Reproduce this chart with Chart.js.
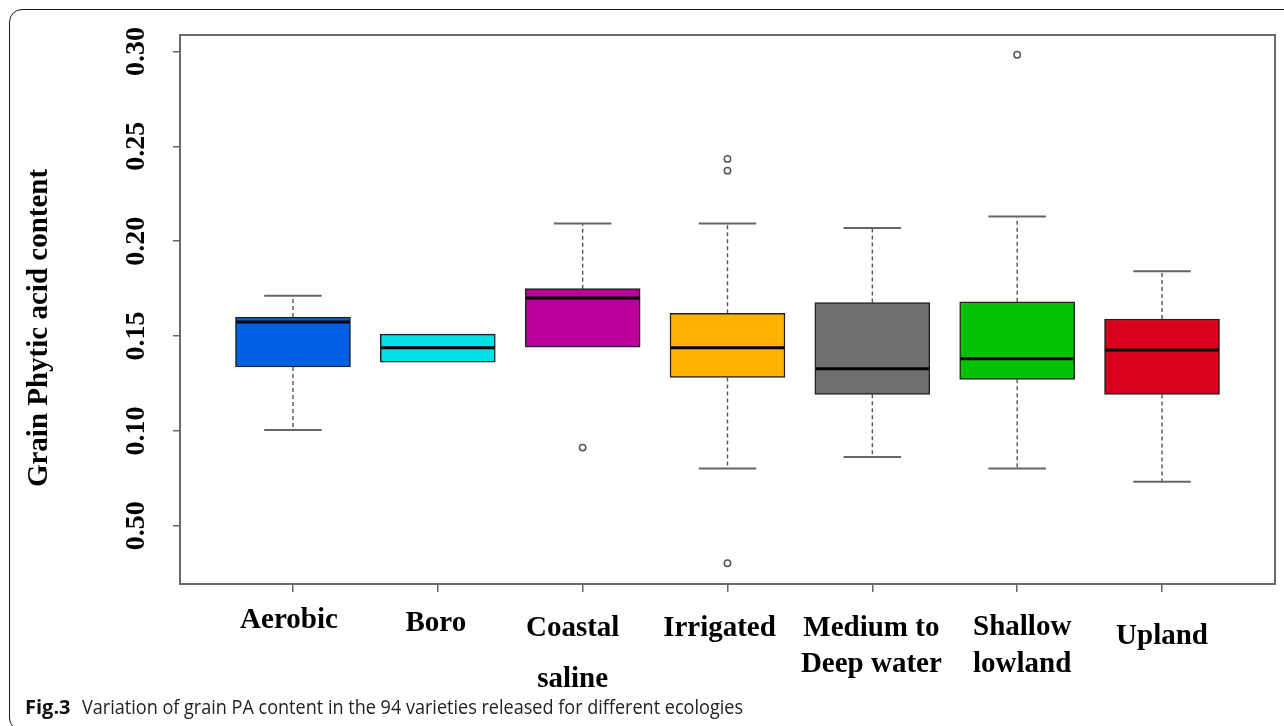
<!DOCTYPE html>
<html>
<head>
<meta charset="utf-8">
<script src="https://cdn.jsdelivr.net/npm/chart.js@4.4.1/dist/chart.umd.min.js"></script>
<style>
  html, body { margin: 0; padding: 0; background: #fff; overflow: hidden; }
  #wrap { position: relative; width: 1284px; height: 726px; overflow: hidden; }
  #frame { position: absolute; left: 9px; top: 9px; width: 1400px; height: 722px;
           border: 1.4px solid #1a1a1a; border-radius: 13px; box-sizing: border-box; pointer-events: none; }
  canvas { position: absolute; left: 0; top: 0; }
</style>
</head>
<body>
<div id="wrap">
  <canvas id="c" width="1284" height="726"></canvas>
  <div id="frame"></div>
</div>
<script>
// ---- data ----
const categories = ['Aerobic', 'Boro', 'Coastal saline', 'Irrigated', 'Medium to Deep water', 'Shallow lowland', 'Upland'];
const categoryLabelLines = [['Aerobic'], ['Boro'], ['Coastal', 'saline'], ['Irrigated'], ['Medium to', 'Deep water'], ['Shallow', 'lowland'], ['Upland']];
const whiskerLow  = [0.1005, 0.1362, 0.1442, 0.0802, 0.0863, 0.0802, 0.0732];
const q1          = [0.1337, 0.1362, 0.1442, 0.1282, 0.1193, 0.1272, 0.1192];
const median      = [0.1574, 0.1439, 0.1700, 0.1439, 0.1328, 0.1381, 0.1426];
const q3          = [0.1600, 0.1510, 0.1750, 0.1620, 0.1677, 0.1681, 0.1590];
const whiskerHigh = [0.1713, 0.1510, 0.2093, 0.2093, 0.2070, 0.2130, 0.1842];
const outlierGroup = [3, 4, 4, 4, 6];
const outlierValue = [0.0912, 0.2434, 0.2372, 0.0302, 0.2983];
const yTicks = [0.05, 0.10, 0.15, 0.20, 0.25, 0.30];
const yTickLabels = ['0.50', '0.10', '0.15', '0.20', '0.25', '0.30'];
const yTitle = 'Grain Phytic acid content';
const captionBold = 'Fig.3';
const captionText = 'Variation of grain PA content in the 94 varieties released for different ecologies';

// ---- styles ----
const boxColors = ['#0060E4', '#00E0E4', '#BA009C', '#FFB200', '#6E6E6E', '#06C106', '#D8001C'];
const labelBaselines = [[628], [631], [636, 687], [636], [636, 672], [635, 672], [644]];
const labelShiftX = [-4, -2, -10, -8, -1, 5, 0];
const serifBold = 'bold 29px "Liberation Serif", "Times New Roman", serif';
const frameColor = '#6a6a6a';

const boxPlugin = {
  id: 'boxplot',
  beforeDatasetsDraw(chart) {
    const { ctx, scales: { x, y } } = chart;
    const meta = chart.getDatasetMeta(0);
    ctx.save();
    meta.data.forEach((bar, i) => {
      const cx = x.getPixelForValue(i + 1);
      const half = bar.width / 4;
      const yl = y.getPixelForValue(whiskerLow[i]);
      const y1 = y.getPixelForValue(q1[i]);
      const y3 = y.getPixelForValue(q3[i]);
      const yh = y.getPixelForValue(whiskerHigh[i]);
      ctx.strokeStyle = '#555';
      ctx.lineWidth = 1.4;
      ctx.setLineDash([4, 3]);
      ctx.beginPath();
      ctx.moveTo(cx, y1); ctx.lineTo(cx, yl);
      ctx.moveTo(cx, y3); ctx.lineTo(cx, yh);
      ctx.stroke();
      ctx.setLineDash([]);
      ctx.strokeStyle = '#666';
      ctx.lineWidth = 2;
      ctx.beginPath();
      if (whiskerLow[i] < q1[i]) { ctx.moveTo(cx - half, yl); ctx.lineTo(cx + half, yl); }
      if (whiskerHigh[i] > q3[i]) { ctx.moveTo(cx - half, yh); ctx.lineTo(cx + half, yh); }
      ctx.stroke();
    });
    ctx.restore();
  },
  afterDatasetsDraw(chart) {
    const { ctx, scales: { y } } = chart;
    const meta = chart.getDatasetMeta(0);
    ctx.save();
    ctx.strokeStyle = '#000';
    ctx.lineWidth = 3;
    meta.data.forEach((bar, i) => {
      const ym = y.getPixelForValue(median[i]);
      ctx.beginPath();
      ctx.moveTo(bar.x - bar.width / 2 + 1, ym);
      ctx.lineTo(bar.x + bar.width / 2 - 1, ym);
      ctx.stroke();
    });
    ctx.restore();
  },
  afterDraw(chart) {
    const { ctx, chartArea: a, scales: { x } } = chart;
    ctx.save();
    // plot frame
    ctx.strokeStyle = frameColor;
    ctx.lineWidth = 2;
    ctx.strokeRect(a.left, a.top, a.right - a.left, a.bottom - a.top);
    // category labels
    ctx.fillStyle = '#000';
    ctx.font = serifBold;
    ctx.textAlign = 'center';
    ctx.textBaseline = 'alphabetic';
    categoryLabelLines.forEach((lines, i) => {
      const cx = x.getPixelForValue(i + 1) + labelShiftX[i];
      lines.forEach((t, j) => ctx.fillText(t, cx, labelBaselines[i][j]));
    });
    // y title
    ctx.save();
    ctx.translate(40, 328);
    ctx.rotate(-Math.PI / 2);
    ctx.textAlign = 'center';
    ctx.textBaseline = 'middle';
    ctx.fillText(yTitle, 0, 0);
    ctx.restore();
    // caption
    ctx.textAlign = 'left';
    ctx.font = 'bold 20px "Open Sans", "Noto Sans", sans-serif';
    ctx.fillStyle = '#111';
    ctx.fillText(captionBold, 25, 714);
    ctx.font = '20px "Open Sans", "Noto Sans", sans-serif';
    ctx.fillStyle = '#222';
    ctx.fillText(captionText, 82, 714, 661);
    ctx.restore();
  }
};

new Chart(document.getElementById('c'), {
  type: 'bar',
  data: {
    datasets: [
      {
        type: 'bar',
        data: categories.map((c, i) => ({ x: i + 1, y: [q1[i], q3[i]] })),
        backgroundColor: boxColors,
        borderColor: '#222',
        borderWidth: 1.5,
        borderSkipped: false,
        barThickness: 115
      },
      {
        type: 'scatter',
        data: outlierGroup.map((g, i) => ({ x: g, y: outlierValue[i] })),
        pointStyle: 'circle',
        pointRadius: 3.2,
        pointBorderWidth: 1.5,
        pointBorderColor: '#555',
        pointBackgroundColor: '#fff'
      }
    ]
  },
  options: {
    responsive: false,
    animation: false,
    events: [],
    layout: { padding: { left: 0, top: 35, right: 9, bottom: 42 } },
    plugins: { legend: { display: false }, tooltip: { enabled: false }, title: { display: false } },
    scales: {
      x: {
        type: 'linear',
        offset: false,
        min: 0.22,
        max: 7.78,
        afterBuildTicks: s => { s.ticks = categories.map((c, i) => ({ value: i + 1 })); },
        afterFit: s => { s.height = 100; },
        ticks: { display: false },
        grid: { offset: false, drawOnChartArea: false, drawTicks: true, tickLength: 8, color: '#666', lineWidth: 1.5 },
        border: { display: false }
      },
      y: {
        type: 'linear',
        min: 0.0193,
        max: 0.3087,
        afterBuildTicks: s => { s.ticks = yTicks.map(v => ({ value: v })); },
        afterFit: s => { s.width = 180; },
        ticks: {
          autoSkip: false,
          minRotation: 90,
          maxRotation: 90,
          crossAlign: 'center',
          padding: 12,
          color: '#000',
          font: { family: '"Liberation Serif", "Times New Roman", serif', weight: 'bold', size: 28 },
          callback: (v, i) => yTickLabels[i]
        },
        grid: { drawOnChartArea: false, drawTicks: true, tickLength: 7, color: '#666', lineWidth: 1.5 },
        border: { display: false }
      }
    }
  },
  plugins: [boxPlugin]
});
</script>
</body>
</html>
